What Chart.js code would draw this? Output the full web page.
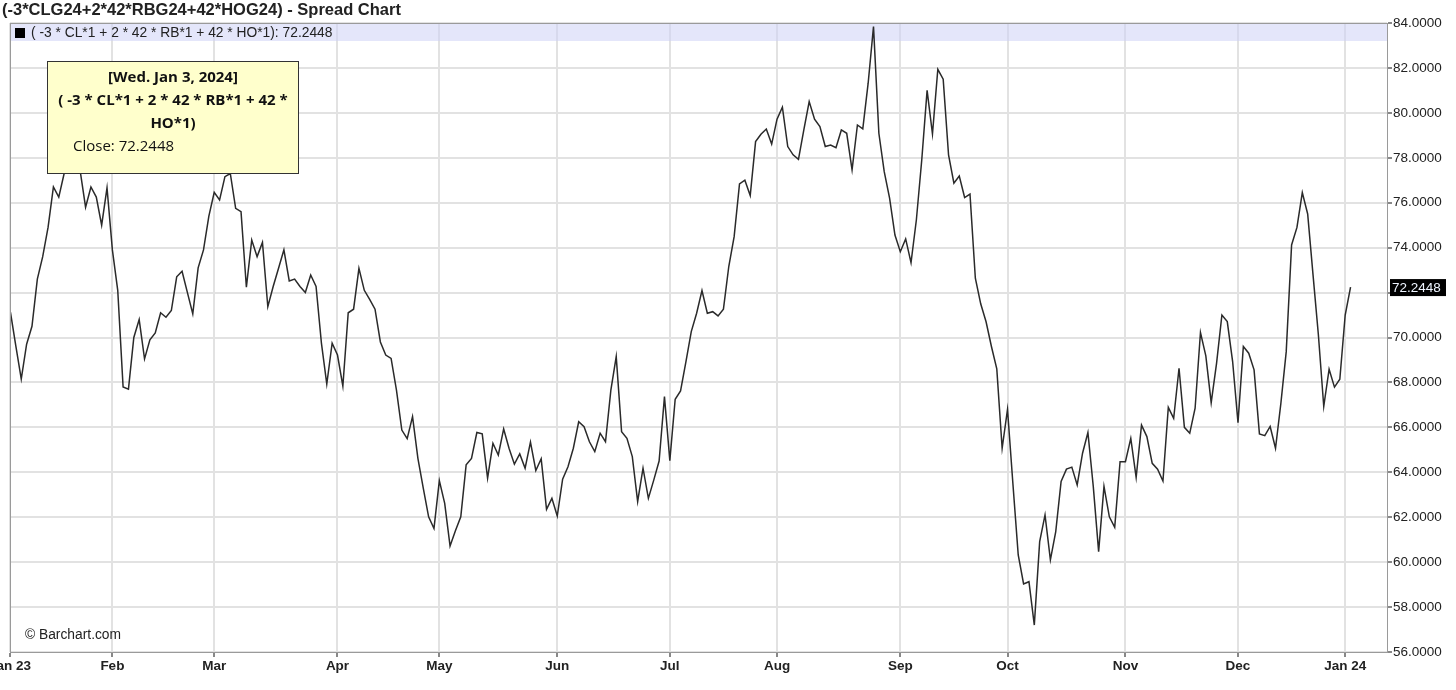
<!DOCTYPE html>
<html>
<head>
<meta charset="utf-8">
<script src="https://cdn.jsdelivr.net/npm/chart.js@4.4.1/dist/chart.umd.min.js"></script>
<style>
  html, body { margin: 0; padding: 0; background: #fff; }
  #wrap { width: 1456px; height: 690px; position: relative; }
</style>
</head>
<body>
<div id="wrap"><canvas id="spreadChart" width="1456" height="690"></canvas></div>
<script>
const chartTitle = "(-3*CLG24+2*42*RBG24+42*HOG24) - Spread Chart";
const legendText = "( -3 * CL*1 + 2 * 42 * RB*1 + 42 * HO*1): 72.2448";
const tooltipLines = ["[Wed. Jan 3, 2024]", "( -3 * CL*1 + 2 * 42 * RB*1 + 42 *", "HO*1)"];
const tooltipClose = "Close: 72.2448";
const lastValue = 72.2448;

// month tick labels and the trading-day index where each month starts
const monthLabels = ["Jan 23", "Feb", "Mar", "Apr", "May", "Jun", "Jul", "Aug", "Sep", "Oct", "Nov", "Dec", "Jan 24"];
const monthStarts = [0, 20, 39, 62, 81, 103, 124, 144, 167, 187, 209, 230, 250];

// daily closes, Jan 3 2023 .. Jan 3 2024 (one value per trading day)
const closeJanFeb = [71.8, 71.1, 69.6, 68.15, 69.7, 70.5, 72.6, 73.6, 74.9, 76.7, 76.25, 77.3, 78.3, 77.9, 77.4, 75.8, 76.7, 76.25, 75.0, 76.66,
  73.9, 72.1, 67.8, 67.7, 70.0, 70.8, 69.05, 69.9, 70.2, 71.1, 70.9, 71.2, 72.7, 72.95, 72.0, 71.05, 73.1, 73.9, 75.4];
const closeMarApr = [76.46, 76.12, 77.16, 77.3, 75.75, 75.6, 72.24, 74.34, 73.6, 74.23, 71.37, 72.27, 73.08, 73.9, 72.52, 72.6, 72.27, 72.0, 72.78, 72.27, 69.75, 67.93, 69.75,
  69.22, 67.84, 71.1, 71.26, 73.08, 72.1, 71.7, 71.26, 69.8, 69.22, 69.07, 67.66, 65.88, 65.5, 66.48, 64.62, 63.29, 62.02, 61.5];
const closeMayJun = [63.63, 62.62, 60.72, 61.4, 62.02, 64.33, 64.62, 65.77, 65.71, 63.74, 65.29, 64.77, 65.93, 65.07, 64.36, 64.82, 64.18, 65.34, 64.08, 64.6, 62.35, 62.84,
  62.05, 63.69, 64.25, 65.07, 66.25, 66.03, 65.36, 64.92, 65.74, 65.36, 67.66, 69.15, 65.81, 65.51, 64.7, 62.7, 64.18, 62.84, 63.65, 64.5, 67.37];
const closeJulAug = [64.52, 67.25, 67.62, 68.92, 70.26, 71.08, 72.09, 71.08, 71.15, 70.96, 71.26, 73.16, 74.49, 76.84, 77.0, 76.32, 78.72, 79.05, 79.28, 78.61,
  79.72, 80.25, 78.5, 78.13, 77.93, 79.24, 80.5, 79.72, 79.39, 78.5, 78.57, 78.45, 79.24, 79.09, 77.46, 79.46, 79.29, 81.32, 83.84, 79.09, 77.38, 76.2, 74.56];
const closeSepOct = [73.82, 74.39, 73.33, 75.24, 77.9, 81.0, 79.06, 81.94, 81.5, 78.13, 76.87, 77.19, 76.23, 76.38, 72.64, 71.5, 70.7, 69.6, 68.6, 65.07,
  66.8, 63.51, 60.32, 59.03, 59.13, 57.2, 60.91, 62.1, 60.1, 61.36, 63.59, 64.14, 64.23, 63.44, 64.85, 65.77, 63.37, 60.47, 63.37, 62.02, 61.55, 64.47];
const closeNovDec = [64.47, 65.51, 63.77, 66.1, 65.59, 64.4, 64.14, 63.61, 66.89, 66.4, 68.63, 66.0, 65.74, 66.85, 70.22, 69.18, 67.1, 68.85, 71.0, 70.71, 68.93,
  66.21, 69.6, 69.3, 68.56, 65.71, 65.63, 66.04, 65.07, 67.07, 69.37, 74.12, 74.9, 76.45, 75.5, 72.79, 70.11, 66.93, 68.59, 67.79, 68.14, 71.0, 72.2448];

const closes = [...closeJanFeb, ...closeMarApr, ...closeMayJun, ...closeJulAug, ...closeSepOct, ...closeNovDec];
const points = closes.map((value, index) => ({ x: index, y: value }));

const axisFont = { family: "'Liberation Sans', Arial, sans-serif", size: 13.5 };

const decorPlugin = {
  id: "decor",
  beforeDatasetsDraw(chart) {
    const { ctx, chartArea } = chart;
    ctx.save();
    ctx.fillStyle = "rgba(205, 210, 245, 0.55)";
    ctx.fillRect(chartArea.left, chartArea.top, chartArea.right - chartArea.left, 18);
    ctx.restore();
  },
  afterDraw(chart) {
    const { ctx, chartArea } = chart;
    ctx.save();

    // frame
    ctx.strokeStyle = "#9a9a9a";
    ctx.lineWidth = 1;
    ctx.strokeRect(chartArea.left + 0.5, chartArea.top + 0.5, chartArea.right - chartArea.left, chartArea.bottom - chartArea.top);

    // title
    ctx.fillStyle = "#222";
    ctx.textBaseline = "middle";
    ctx.font = "bold 16.5px 'Liberation Sans', Arial, sans-serif";
    ctx.fillText(chartTitle, 2, 10);

    // legend line
    ctx.fillStyle = "#000";
    ctx.fillRect(15, 28, 10, 10);
    ctx.fillStyle = "#222";
    ctx.font = "13.8px 'Liberation Sans', Arial, sans-serif";
    ctx.fillText(legendText, 31, 33);

    // watermark
    ctx.fillText("\u00a9 Barchart.com", 25, 635);

    // last value box on the axis
    const yPix = chart.scales.y.getPixelForValue(lastValue);
    ctx.fillStyle = "#000";
    ctx.fillRect(chartArea.right + 3, yPix - 8, 56, 17);
    ctx.fillStyle = "#eef4ff";
    ctx.font = "13.5px 'Liberation Sans', Arial, sans-serif";
    ctx.fillText(lastValue.toFixed(4), chartArea.right + 5, yPix + 1);

    // fixed tooltip
    ctx.fillStyle = "#ffffcc";
    ctx.fillRect(47, 61, 251, 112);
    ctx.strokeStyle = "#333";
    ctx.strokeRect(47.5, 61.5, 251, 112);
    ctx.fillStyle = "#111";
    ctx.textAlign = "center";
    ctx.font = "bold 15px 'Open Sans', 'Noto Sans', sans-serif";
    tooltipLines.forEach((line, i) => ctx.fillText(line, 173, 78 + i * 23));
    ctx.textAlign = "left";
    ctx.font = "15px 'Open Sans', 'Noto Sans', sans-serif";
    ctx.fillText(tooltipClose, 73, 147);

    ctx.restore();
  }
};

new Chart(document.getElementById("spreadChart"), {
  type: "line",
  data: {
    datasets: [
      {
        data: points,
        borderColor: "#2a2a2a",
        borderWidth: 1.5,
        pointRadius: 0,
        tension: 0
      }
    ]
  },
  options: {
    responsive: false,
    animation: false,
    layout: { padding: { top: 23, left: 10, right: 0, bottom: 0 } },
    plugins: { legend: { display: false }, tooltip: { enabled: false } },
    scales: {
      x: {
        type: "linear",
        min: 0.9,
        max: 257.8,
        afterFit: (scale) => {
          scale.height = 38;
          scale.paddingLeft = 0;
          scale.paddingRight = 0;
        },
        // the first month tick sits on the left edge of the plot
        afterBuildTicks: (scale) => {
          scale.ticks = monthStarts.map((value) => ({ value: Math.max(value, scale.min) }));
        },
        ticks: {
          autoSkip: false,
          maxRotation: 0,
          padding: 1,
          color: "#222",
          font: { ...axisFont, weight: "bold" },
          callback: (value, index) => monthLabels[index]
        },
        grid: { color: "#e2e2e2", lineWidth: 2, tickLength: 5, tickColor: "#888" },
        border: { color: "#9a9a9a" }
      },
      y: {
        position: "right",
        min: 56,
        max: 84,
        afterFit: (scale) => {
          scale.width = 69;
          scale.paddingTop = 0;
          scale.paddingBottom = 0;
        },
        ticks: {
          stepSize: 2,
          padding: 1,
          color: "#222",
          font: axisFont,
          callback: (value) => value.toFixed(4)
        },
        grid: { color: "#e2e2e2", lineWidth: 2, tickLength: 5, tickColor: "#888" },
        border: { color: "#9a9a9a" }
      }
    }
  },
  plugins: [decorPlugin]
});
</script>
</body>
</html>
